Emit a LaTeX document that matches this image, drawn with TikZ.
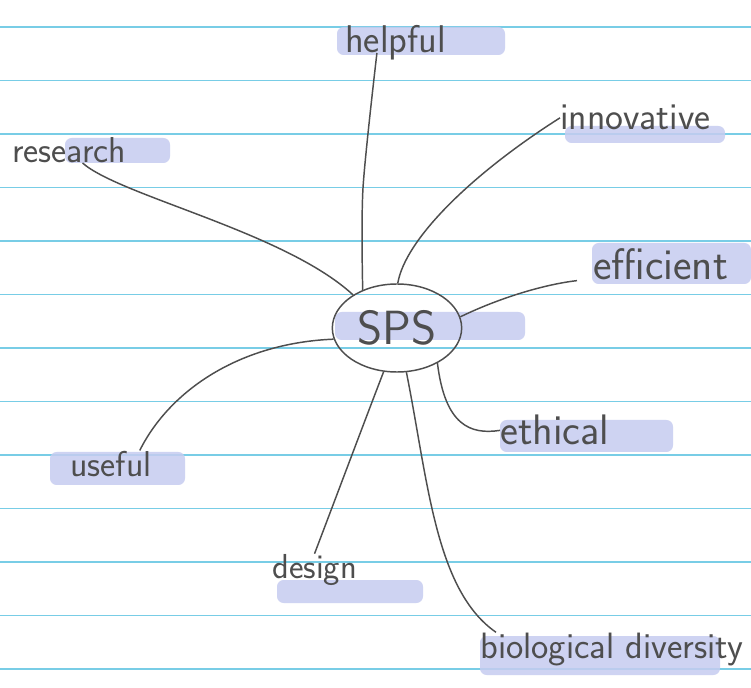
\documentclass[tikz,border=0pt]{standalone}
\usepackage{tikz}
\usetikzlibrary{shapes.geometric}
\definecolor{ruleblue}{RGB}{120,205,230}
\definecolor{hilite}{RGB}{198,204,240}
\definecolor{pencil}{RGB}{78,78,78}
\tikzset{
  word/.style={font=\fontsize{27}{31}\selectfont\sffamily, text=pencil, inner sep=0pt, anchor=base west},
  link/.style={draw=pencil, line width=1.1pt},
  highlight/.style={fill=hilite, opacity=0.85, rounded corners=5pt},
  ruled/.style={ruleblue, line width=0.9pt}
}
\begin{document}
\begin{tikzpicture}[x=0.75pt,y=-0.75pt]
\fill[white] (0,0) rectangle (751,688);
\useasboundingbox (0,0) rectangle (751,688);
\foreach \i in {0,...,12}
  \draw[ruled] (0,{27+53.5*\i}) -- (751,{27+53.5*\i});

\fill[highlight] (337,27) rectangle (505,55);
\fill[highlight] (65,138) rectangle (170,163);
\fill[highlight] (565,126) rectangle (725,143);
\fill[highlight] (592,243) rectangle (751,284);
\fill[highlight] (335,312) rectangle (525,340);
\fill[highlight] (500,420) rectangle (673,452);
\fill[highlight] (50,452) rectangle (185,485);
\fill[highlight] (277,580) rectangle (423,603);
\fill[highlight] (480,636) rectangle (720,675);

\node[draw=pencil, line width=1.1pt, ellipse, minimum width=97pt, minimum height=66pt, font=\fontsize{36}{42}\selectfont\sffamily, text=pencil] (sps) at (397,328) {SPS};
\node[word] (research) at (12,163) {research};
\node[word, font=\fontsize{29}{33}\selectfont\sffamily] (helpful) at (345,53) {helpful};
\node[word, font=\fontsize{28.5}{33}\selectfont\sffamily] (innovative) at (560,130) {innovative};
\node[word, font=\fontsize{33}{38}\selectfont\sffamily] (efficient) at (593,280) {efficient};
\node[word, font=\fontsize{32}{36}\selectfont\sffamily] (ethical) at (500,445) {ethical};
\node[word] (useful) at (70,476) {useful};
\node[word, font=\fontsize{26}{30}\selectfont\sffamily] (design) at (272,578) {design};
\node[word, font=\fontsize{27.5}{32}\selectfont\sffamily] (biodiv) at (480,658) {biological diversity};

\draw[link] ([xshift=10pt]research.base) .. controls (120,196) and (285,232) .. (sps.143);
\draw[link] plot [smooth] coordinates {([xshift=-14pt]helpful.base) (363,188) (sps.132)};
\draw[link] (innovative.west) .. controls (470,175) and (405,240) .. (sps.89);
\draw[link] (sps.10) .. controls (495,300) and (540,285) .. ([xshift=-12pt]efficient.south west);
\draw[link] (sps.319) .. controls (445,425) and (470,435) .. (ethical.west);
\draw[link] ([xshift=-9pt]useful.north east) .. controls (170,390) and (240,343) .. (sps.190);
\draw[link] (design.north) .. controls (335,500) and (365,420) .. (sps.253);
\draw[link] ([xshift=12pt]biodiv.north west) .. controls (435,590) and (428,480) .. (sps.282);
\end{tikzpicture}
\end{document}
